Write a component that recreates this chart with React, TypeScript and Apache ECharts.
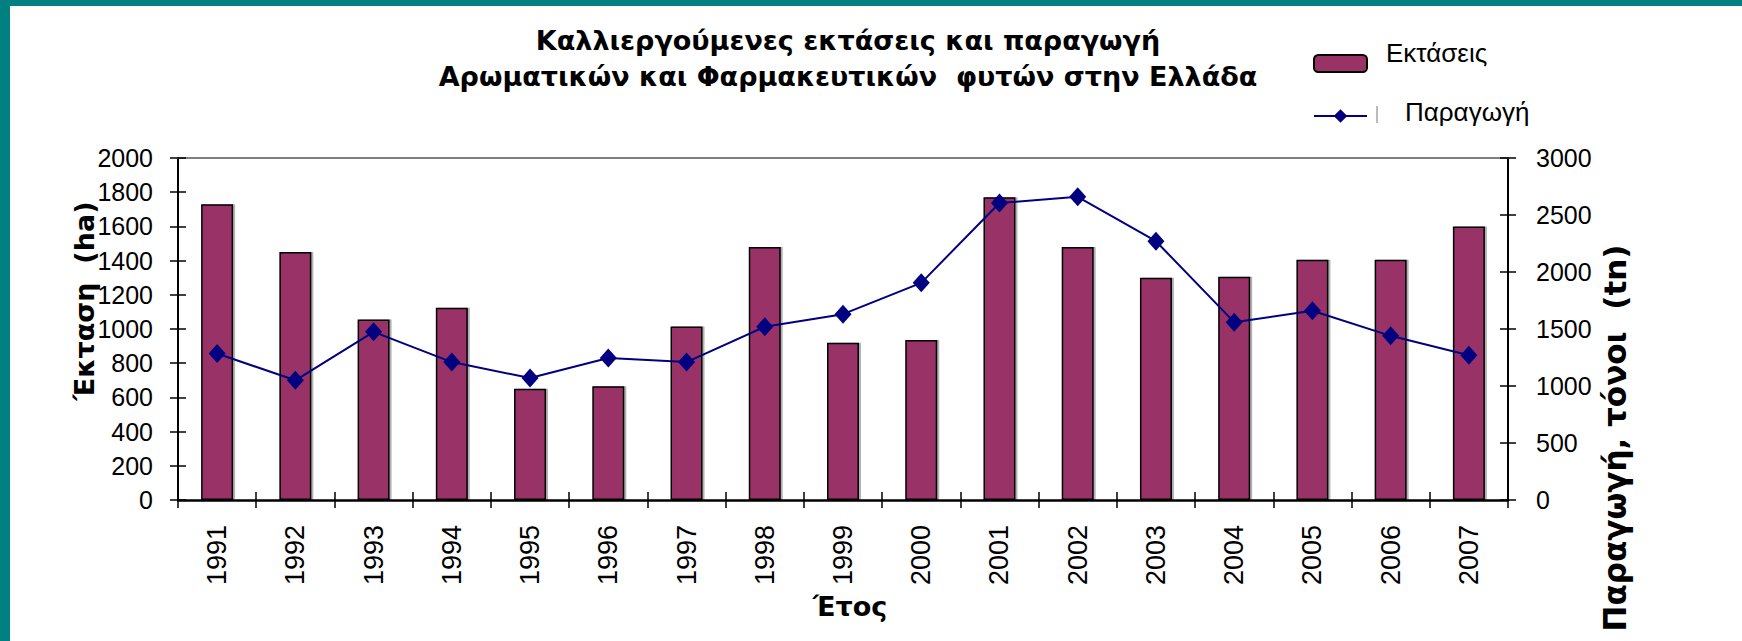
import React, { useEffect, useRef } from "react";
import * as echarts from "echarts";

const years = ["1991","1992","1993","1994","1995","1996","1997","1998","1999","2000","2001","2002","2003","2004","2005","2006","2007"];
const areaHa = [1730, 1450, 1055, 1125, 650, 665, 1015, 1480, 920, 935, 1770, 1480, 1300, 1305, 1405, 1405, 1600];
const productionTn = [1285, 1050, 1475, 1210, 1070, 1245, 1210, 1520, 1630, 1905, 2605, 2660, 2270, 1560, 1660, 1440, 1270];

const titleText = "Καλλιεργούμενες εκτάσεις και παραγωγή\nΑρωματικών και Φαρμακευτικών  φυτών στην Ελλάδα";
const barName = "Εκτάσεις";
const lineName = "Παραγωγή";
const leftAxisName = "Έκταση  (ha)";
const rightAxisName = "Παραγωγή, τόνοι  (tn)";
const xAxisName = "Έτος";

const SANS = "'Liberation Sans', Arial, sans-serif";
const BOLD = "'DejaVu Sans', Verdana, sans-serif";

export default function App() {
  const ref = useRef<HTMLDivElement>(null);
  useEffect(() => {
    if (!ref.current) return;
    const chart = echarts.init(ref.current, null, { renderer: "svg" });
    const labelStyle = { color: "#000", fontFamily: SANS, fontSize: 25, formatter: (v: any) => String(v) };
    chart.setOption({
      animation: false,
      backgroundColor: "#fff",
      title: {
        text: titleText,
        left: 848,
        top: 22,
        textAlign: "center",
        padding: 0,
        textStyle: { fontFamily: BOLD, fontWeight: "bold", fontSize: 27, lineHeight: 36, color: "#000" },
      },
      legend: [
        {
          data: [barName],
          left: 1313,
          top: 39.5,
          padding: 0,
          orient: "vertical",
          itemWidth: 53,
          itemHeight: 17,
          formatter: (name: string) => name + "\n ",
          textStyle: { fontFamily: SANS, fontSize: 26, lineHeight: 22, color: "#000", padding: [0, 0, 0, 14] },
        },
        {
          data: [lineName],
          left: 1313,
          top: 99,
          padding: 0,
          orient: "vertical",
          itemWidth: 53,
          itemHeight: 17,
          formatter: (name: string) => name + "\n ",
          textStyle: { fontFamily: SANS, fontSize: 26, lineHeight: 8, color: "#000", padding: [0, 0, 0, 33] },
        },
      ],
      grid: { left: 178, right: 234, top: 158, bottom: 141, containLabel: false },
      xAxis: [
        {
          type: "category",
          data: years,
          position: "bottom",
          boundaryGap: true,
          axisLine: { onZero: false, lineStyle: { color: "#000", width: 2.5 } },
          axisTick: { show: true, length: 8, interval: 0, lineStyle: { color: "#000", width: 1.5 } },
          axisLabel: { color: "#000", fontFamily: SANS, fontSize: 27, rotate: 90, margin: 25, interval: 0 },
          splitLine: { show: false },
        },
        {
          type: "category",
          data: years,
          position: "bottom",
          boundaryGap: true,
          axisLine: { show: false, onZero: false },
          axisTick: { show: true, inside: true, length: 8, interval: 0, lineStyle: { color: "#000", width: 1.5 } },
          axisLabel: { show: false },
          splitLine: { show: false },
        },
        {
          type: "category",
          data: years,
          position: "top",
          boundaryGap: true,
          axisLine: { show: true, onZero: false, lineStyle: { color: "#808080", width: 2 } },
          axisTick: { show: false },
          axisLabel: { show: false },
          splitLine: { show: false },
        },
      ],
      yAxis: [
        {
          type: "value",
          position: "left",
          min: 0,
          max: 2000,
          interval: 200,
          axisLine: { show: true, onZero: false, lineStyle: { color: "#000", width: 2 } },
          axisTick: { show: true, length: 8, lineStyle: { color: "#000", width: 1.5 } },
          axisLabel: { ...labelStyle, margin: 25 },
          splitLine: { show: false },
        },
        {
          type: "value",
          position: "right",
          min: 0,
          max: 3000,
          interval: 500,
          axisLine: { show: true, onZero: false, lineStyle: { color: "#000", width: 2 } },
          axisTick: { show: true, length: 8, lineStyle: { color: "#000", width: 1.5 } },
          axisLabel: { ...labelStyle, margin: 28 },
          splitLine: { show: false },
        },
        {
          type: "value",
          position: "left",
          min: 0,
          max: 2000,
          interval: 200,
          axisLine: { show: false, onZero: false },
          axisTick: { show: true, inside: true, length: 8, lineStyle: { color: "#000", width: 1.5 } },
          axisLabel: { show: false },
          splitLine: { show: false },
        },
        {
          type: "value",
          position: "right",
          min: 0,
          max: 3000,
          interval: 500,
          axisLine: { show: false, onZero: false },
          axisTick: { show: true, inside: true, length: 8, lineStyle: { color: "#000", width: 1.5 } },
          axisLabel: { show: false },
          splitLine: { show: false },
        },
      ],
      series: [
        {
          name: barName,
          type: "bar",
          xAxisIndex: 0,
          yAxisIndex: 0,
          data: areaHa,
          barWidth: 32,
          itemStyle: {
            color: "#993366",
            borderColor: "#000",
            borderWidth: 1.5,
            shadowColor: "rgba(0,0,0,0.3)",
            shadowOffsetX: 2,
            shadowOffsetY: 0,
            shadowBlur: 0,
          },
          z: 2,
        },
        {
          name: lineName,
          type: "line",
          xAxisIndex: 0,
          yAxisIndex: 1,
          data: productionTn,
          symbol: "diamond",
          symbolSize: [17, 19],
          lineStyle: { color: "#000080", width: 2 },
          itemStyle: { color: "#000080" },
          z: 3,
        },
      ],
      graphic: [
        { type: "rect", shape: { x: 0, y: 0, width: 1742, height: 6 }, style: { fill: "#008080" }, silent: true },
        { type: "rect", shape: { x: 0, y: 0, width: 10, height: 641 }, style: { fill: "#008080" }, silent: true },
        { type: "line", shape: { x1: 1377, y1: 106, x2: 1377, y2: 123 }, style: { stroke: "#777", lineWidth: 1 }, silent: true },
        {
          type: "text",
          x: 84,
          y: 301,
          rotation: Math.PI / 2,
          style: { text: leftAxisName, fill: "#000", fontFamily: BOLD, fontWeight: "bold", fontSize: 27, align: "center", verticalAlign: "middle" },
        },
        {
          type: "text",
          x: 1615,
          y: 438,
          rotation: Math.PI / 2,
          style: { text: rightAxisName, fill: "#000", fontFamily: BOLD, fontWeight: "bold", fontSize: 31, align: "center", verticalAlign: "middle" },
        },
        {
          type: "text",
          x: 850,
          y: 606,
          style: { text: xAxisName, fill: "#000", fontFamily: BOLD, fontWeight: "bold", fontSize: 27, align: "center", verticalAlign: "middle" },
        },
      ],
    });
    return () => chart.dispose();
  }, []);
  return <div ref={ref} style={{ position: "absolute", left: 0, top: 0, width: 1742, height: 641 }} />;
}
